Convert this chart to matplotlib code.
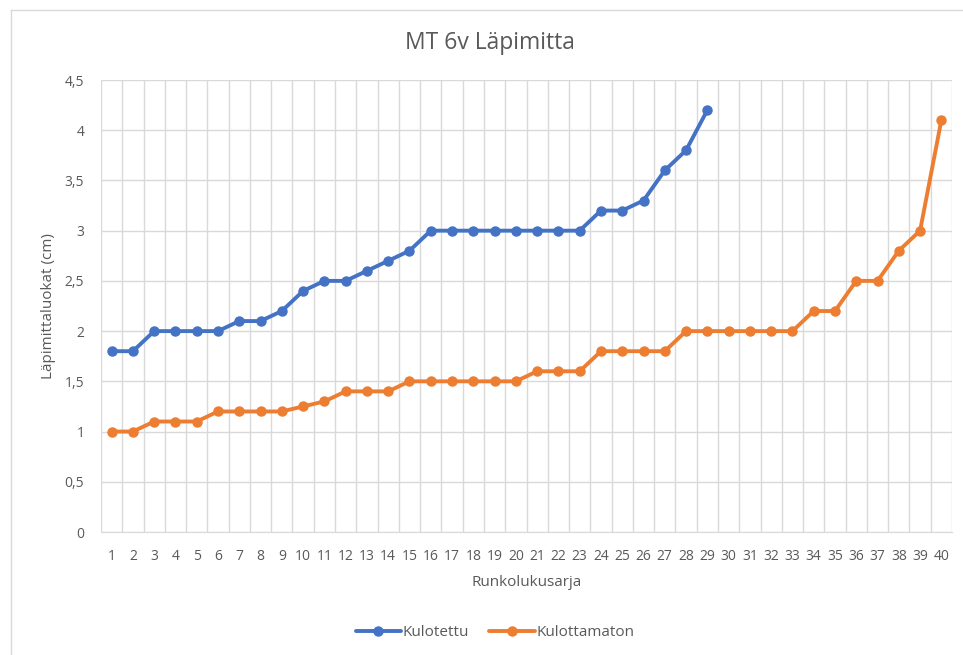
import matplotlib
matplotlib.use("Agg")
import matplotlib.pyplot as plt
from matplotlib.lines import Line2D
from matplotlib.ticker import FuncFormatter

categories = list(range(1, 41))
kulotettu = [1.8, 1.8, 2.0, 2.0, 2.0, 2.0, 2.1, 2.1, 2.2, 2.4, 2.5, 2.5, 2.6, 2.7, 2.8,
             3.0, 3.0, 3.0, 3.0, 3.0, 3.0, 3.0, 3.0, 3.2, 3.2, 3.3, 3.6, 3.8, 4.2]
kulottamaton = [1.0, 1.0, 1.1, 1.1, 1.1, 1.2, 1.2, 1.2, 1.2, 1.25, 1.3, 1.4, 1.4, 1.4, 1.5,
                1.5, 1.5, 1.5, 1.5, 1.5, 1.6, 1.6, 1.6, 1.8, 1.8, 1.8, 1.8, 2.0, 2.0, 2.0,
                2.0, 2.0, 2.0, 2.2, 2.2, 2.5, 2.5, 2.8, 3.0, 4.1]
yticks = [0, 0.5, 1, 1.5, 2, 2.5, 3, 3.5, 4, 4.5]

plt.rcParams['font.family'] = ['Open Sans', 'DejaVu Sans']
txt = '#595959'
W, H = 963, 655
fig = plt.figure(figsize=(W/100, H/100), dpi=100)
ax = fig.add_axes([101/W, 1-532/H, (952-101)/W, (532-80)/H])

ax.plot(categories[:len(kulotettu)], kulotettu, color='#4472C4', lw=2.8, marker='o', ms=6.5,
        label='Kulotettu', solid_capstyle='round', zorder=3)
ax.plot(categories, kulottamaton, color='#ED7D31', lw=2.8, marker='o', ms=6.5,
        label='Kulottamaton', solid_capstyle='round', zorder=3)

ax.set_xlim(0.5, 40.5)
ax.set_ylim(0, 4.5)
ax.set_yticks(yticks)
ax.yaxis.set_major_formatter(FuncFormatter(lambda v, p: ('%g' % v).replace('.', ',')))
ax.set_xticks(categories)
ax.set_xticks([c + 0.5 for c in [0] + categories], minor=True)
ax.tick_params(axis='both', which='both', length=0, labelsize=10, colors=txt)
ax.tick_params(axis='x', pad=12)
ax.tick_params(axis='y', pad=12)
ax.grid(True, axis='y', which='major', color='#D9D9D9', lw=1)
ax.grid(True, axis='x', which='minor', color='#D9D9D9', lw=1)
ax.set_axisbelow(True)
for s in ['top', 'right', 'left']:
    ax.spines[s].set_visible(False)
ax.spines['bottom'].set_color('#D9D9D9')

fig.text(490/W, 1-43/H, 'MT 6v Läpimitta', fontsize=16.5, color=txt, ha='center', va='center')
ax.set_xlabel('Runkolukusarja', fontsize=11, color=txt, labelpad=8)
ax.set_ylabel('Läpimittaluokat (cm)', fontsize=11, color=txt, labelpad=6)

ax.legend(loc='center', bbox_to_anchor=(495/W, 1-633/H), bbox_transform=fig.transFigure,
          ncol=2, frameon=False, fontsize=11, labelcolor=txt, handlelength=3.0,
          columnspacing=1.3, handletextpad=0.1)

fig.add_artist(Line2D([11/W, 11/W], [0, 1-10/H], color='#D9D9D9', lw=1))
fig.add_artist(Line2D([11/W, 1], [1-10/H, 1-10/H], color='#D9D9D9', lw=1))

fig.savefig('out.png', dpi=100)
